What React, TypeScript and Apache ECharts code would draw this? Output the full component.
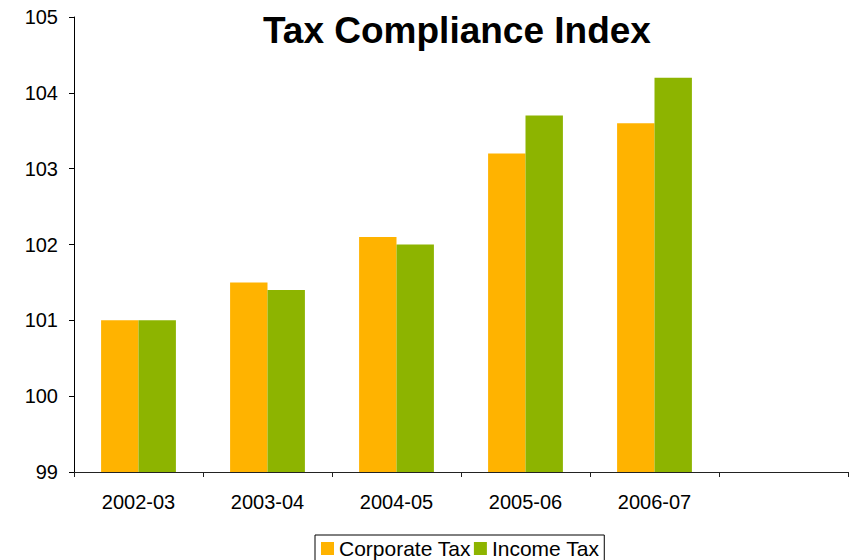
import React, { useEffect, useRef } from "react";
import * as echarts from "echarts";

const categories = ["2002-03", "2003-04", "2004-05", "2005-06", "2006-07", ""];
const corporateTax = [101.0, 101.5, 102.1, 103.2, 103.6, null];
const incomeTax = [101.0, 101.4, 102.0, 103.7, 104.2, null];
const seriesNames = ["Corporate Tax", "Income Tax"];

export default function App() {
  const ref = useRef<HTMLDivElement>(null);
  useEffect(() => {
    if (!ref.current) return;
    const chart = echarts.init(ref.current, null, { renderer: "svg" });
    const font = "Arial, 'Liberation Sans', sans-serif";
    chart.setOption({
      animation: false,
      backgroundColor: "#ffffff",
      title: {
        text: "Tax Compliance Index",
        left: 258,
        top: 7,
        textStyle: { fontFamily: font, fontSize: 37, fontWeight: "bold", color: "#000" },
      },
      legend: {
        left: 315,
        top: 535,
        data: seriesNames,
        itemWidth: 13,
        itemHeight: 13,
        itemGap: 3,
        padding: [3, 5, 3, 6],
        borderColor: "#000",
        borderWidth: 1,
        icon: "rect",
        textStyle: { fontFamily: font, fontSize: 21, color: "#000" },
      },
      grid: { left: 74, right: 6, top: 17, bottom: 88, containLabel: false },
      xAxis: {
        type: "category",
        data: categories,
        axisLine: { lineStyle: { color: "#222", width: 1 } },
        axisTick: { show: true, length: 5, lineStyle: { color: "#222" } },
        axisLabel: { fontFamily: font, fontSize: 20, color: "#000", margin: 20, interval: 0 },
      },
      yAxis: {
        type: "value",
        min: 99,
        max: 105,
        interval: 1,
        splitLine: { show: false },
        axisLine: { show: true, lineStyle: { color: "#000", width: 1 } },
        axisTick: { show: true, length: 5, lineStyle: { color: "#000" } },
        axisLabel: { fontFamily: font, fontSize: 20, color: "#000", margin: 16 },
      },
      series: [
        {
          name: seriesNames[0],
          type: "bar",
          data: corporateTax,
          itemStyle: { color: "#FFB300" },
          barGap: "0%",
          barCategoryGap: "42%",
        },
        {
          name: seriesNames[1],
          type: "bar",
          data: incomeTax,
          itemStyle: { color: "#8DB400" },
          barGap: "0%",
          barCategoryGap: "42%",
        },
      ],
    });
    return () => chart.dispose();
  }, []);
  return <div ref={ref} style={{ width: 854, height: 560, position: "absolute", left: 0, top: 0 }} />;
}
